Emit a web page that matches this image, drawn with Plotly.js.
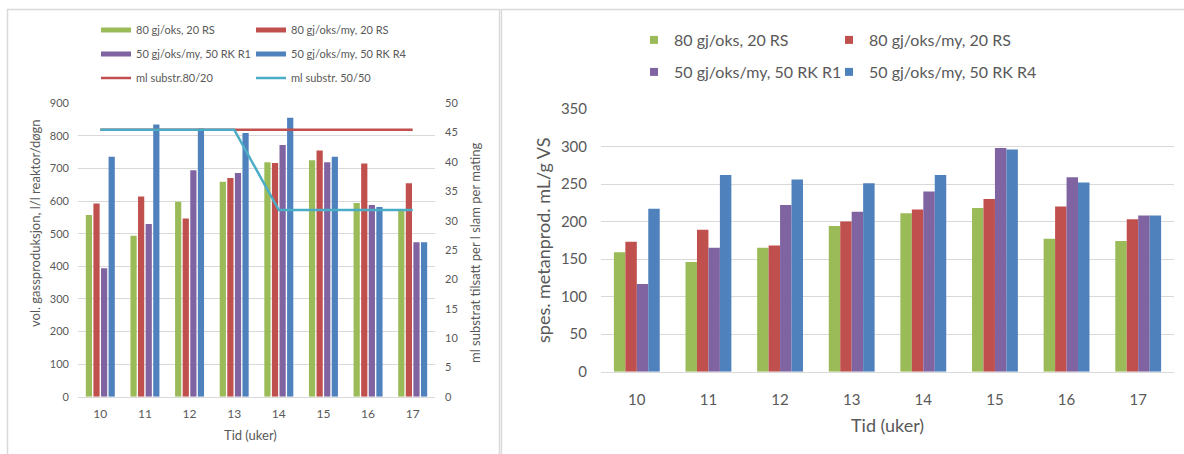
<!DOCTYPE html>
<html>
<head>
<meta charset="utf-8">
<script src="https://cdn.plot.ly/plotly-3.0.1.min.js"></script>
<style>
  html, body { margin: 0; padding: 0; background: #ffffff; }
  #chart { width: 1184px; height: 454px; }
</style>
</head>
<body>
<div id="chart"></div>
<script>
// Weeks on the time axis
const weeks = ['10', '11', '12', '13', '14', '15', '16', '17'];

// Reactor series
const seriesNames = ['80 gj/oks, 20 RS', '80 gj/oks/my, 20 RS', '50 gj/oks/my, 50 RK R1', '50 gj/oks/my, 50 RK R4'];
const seriesColors = ['#9BBB59', '#C0504D', '#8064A2', '#4F81BD'];

// Volumetric gas production, l/l reactor per day
const gasOks80 = [557, 494, 598, 659, 719, 725, 594, 572];
const gasOksMy80 = [593, 614, 547, 671, 717, 755, 715, 655];
const gasR1 = [394, 530, 695, 686, 772, 719, 588, 474];
const gasR4 = [736, 835, 823, 809, 856, 736, 582, 474];

// Substrate dosing, ml substrate per l sludge per feeding
const substrNames = ['ml substr.80/20', 'ml substr. 50/50'];
const substrColors = ['#C0504D', '#4BACC6'];
const substr8020 = [45.5, 45.5, 45.5, 45.5, 45.5, 45.5, 45.5, 45.5];
const substr5050 = [45.5, 45.5, 45.5, 45.5, 31.8, 31.8, 31.8, 31.8];

// Specific methane production, mL/g VS
const methOks80 = [159, 146, 165, 194, 211, 218, 177, 174];
const methOksMy80 = [173, 189, 168, 200, 216, 230, 220, 203];
const methR1 = [117, 165, 222, 213, 240, 298, 259, 208];
const methR4 = [217, 262, 256, 251, 262, 296, 252, 208];

const W = 1184, H = 454;
const px = v => v / W;
const py = v => 1 - v / H;

const FONT = 'Lato, "Open Sans", sans-serif';
const GREY = '#595959';
const GRID = '#D9D9D9';

const gasSeries = [gasOks80, gasOksMy80, gasR1, gasR4];
const methSeries = [methOks80, methOksMy80, methR1, methR4];

const traces = [];

// Left chart: grouped bars of gas production
gasSeries.forEach((vals, i) => {
  traces.push({
    type: 'bar', x: weeks, y: vals, name: seriesNames[i],
    xaxis: 'x', yaxis: 'y', showlegend: false,
    marker: { color: seriesColors[i] }, hoverinfo: 'skip'
  });
});

// Left chart: substrate dosing lines on the secondary axis
[substr8020, substr5050].forEach((vals, i) => {
  traces.push({
    type: 'scatter', mode: 'lines', x: weeks, y: vals, name: substrNames[i],
    xaxis: 'x', yaxis: 'y2', legend: 'legend3',
    legendwidth: i === 0 ? 110 : 170,
    line: { color: substrColors[i], width: 2.5 }, hoverinfo: 'skip'
  });
});

// Left chart legend keys (wide swatches)
seriesNames.forEach((nm, i) => {
  traces.push({
    type: 'scatter', mode: 'lines', x: [null], y: [null], name: nm,
    xaxis: 'x', yaxis: 'y', legend: i < 2 ? 'legend' : 'legend2',
    legendwidth: i % 2 === 0 ? 110 : 170,
    line: { color: seriesColors[i], width: 5 }, hoverinfo: 'skip'
  });
});

// Right chart: grouped bars of specific methane production
const barOffsets = [-0.32, -0.16, 0, 0.16];
methSeries.forEach((vals, i) => {
  traces.push({
    type: 'bar', x: weeks, y: vals, name: seriesNames[i],
    xaxis: 'x2', yaxis: 'y3', showlegend: false,
    width: 0.16, offset: barOffsets[i],
    marker: { color: seriesColors[i] }, hoverinfo: 'skip'
  });
});

// Right chart legend keys (small squares)
seriesNames.forEach((nm, i) => {
  traces.push({
    type: 'scatter', mode: 'markers', x: [null], y: [null], name: nm,
    xaxis: 'x2', yaxis: 'y3', legend: i < 2 ? 'legend4' : 'legend5',
    legendwidth: i % 2 === 0 ? 150 : 230,
    marker: { color: seriesColors[i], symbol: 'square', size: 8 }, hoverinfo: 'skip'
  });
});

const smallLegend = y => ({
  orientation: 'h', x: px(96), xanchor: 'left', y: py(y), yanchor: 'middle',
  entrywidth: 110, entrywidthmode: 'pixels', itemwidth: 30,
  bgcolor: 'rgba(0,0,0,0)', font: { family: FONT, size: 11, color: GREY },
  traceorder: 'normal', itemclick: false, itemdoubleclick: false
});
const bigLegend = y => ({
  orientation: 'h', x: px(634), xanchor: 'left', y: py(y), yanchor: 'middle',
  entrywidth: 150, entrywidthmode: 'pixels', itemwidth: 30,
  bgcolor: 'rgba(0,0,0,0)', font: { family: FONT, size: 16, color: GREY },
  traceorder: 'normal', itemclick: false, itemdoubleclick: false
});

const titleAnn = (text, x, y, size, angle) => ({
  text: text, xref: 'paper', yref: 'paper', x: px(x), y: py(y),
  xanchor: 'center', yanchor: 'middle', showarrow: false, textangle: angle || 0,
  font: { family: FONT, size: size, color: GREY }
});

const layout = {
  width: W, height: H,
  margin: { l: 0, r: 0, t: 0, b: 0 },
  paper_bgcolor: '#ffffff', plot_bgcolor: 'rgba(0,0,0,0)',
  font: { family: FONT, color: GREY },
  barmode: 'group', bargap: 0.32, bargroupgap: 0.18,
  xaxis: {
    domain: [px(78), px(435)], anchor: 'y', type: 'category', range: [-0.5, 7.5],
    showgrid: false, zeroline: false, showline: true, linecolor: GRID, linewidth: 1,
    ticks: '', ticklabelstandoff: 6, tickfont: { family: FONT, size: 12, color: GREY }
  },
  yaxis: {
    domain: [py(396.7), py(103.3)], anchor: 'x', range: [0, 900], dtick: 100,
    showgrid: true, gridcolor: GRID, gridwidth: 1, zeroline: false, showline: false,
    ticks: '', ticklabelstandoff: 8, tickfont: { family: FONT, size: 11, color: GREY }
  },
  yaxis2: {
    overlaying: 'y', side: 'right', anchor: 'x', range: [0, 50], dtick: 5,
    showgrid: false, zeroline: false, showline: false,
    ticks: '', ticklabelstandoff: 9, tickfont: { family: FONT, size: 11, color: GREY }
  },
  xaxis2: {
    domain: [px(601), px(1174)], anchor: 'y3', type: 'category', range: [-0.5, 7.5],
    showgrid: false, zeroline: false, showline: true, linecolor: GRID, linewidth: 1,
    ticks: '', ticklabelstandoff: 14, tickfont: { family: FONT, size: 15, color: GREY }
  },
  yaxis3: {
    domain: [py(371.7), py(109)], anchor: 'x2', range: [0, 350], dtick: 50,
    showgrid: true, gridcolor: GRID, gridwidth: 1, zeroline: false, showline: false,
    ticks: '', ticklabelstandoff: 13, tickfont: { family: FONT, size: 15, color: GREY }
  },
  legend: smallLegend(30),
  legend2: smallLegend(54),
  legend3: smallLegend(78),
  legend4: bigLegend(40),
  legend5: bigLegend(72),
  annotations: [
    titleAnn('Tid (uker)', 250, 435, 13),
    titleAnn('vol. gassproduksjon, l/l reaktor/døgn', 35, 223, 13, -90),
    titleAnn('ml substrat tilsatt per l slam per mating', 475, 253, 13, -90),
    titleAnn('Tid (uker)', 887, 425, 18),
    titleAnn('spes. metanprod. mL/g VS', 543, 241, 18, -90)
  ],
  shapes: [
    { type: 'rect', xref: 'paper', yref: 'paper', layer: 'below',
      x0: px(7.5), x1: px(499.5), y0: py(9.5), y1: py(470),
      line: { color: GRID, width: 1.5 }, fillcolor: 'rgba(0,0,0,0)' },
    { type: 'rect', xref: 'paper', yref: 'paper', layer: 'below',
      x0: px(501.5), x1: px(1200), y0: py(9.5), y1: py(470),
      line: { color: GRID, width: 1.5 }, fillcolor: 'rgba(0,0,0,0)' }
  ],
  showlegend: true
};

Plotly.newPlot('chart', traces, layout, { staticPlot: true, displayModeBar: false });
</script>
</body>
</html>
